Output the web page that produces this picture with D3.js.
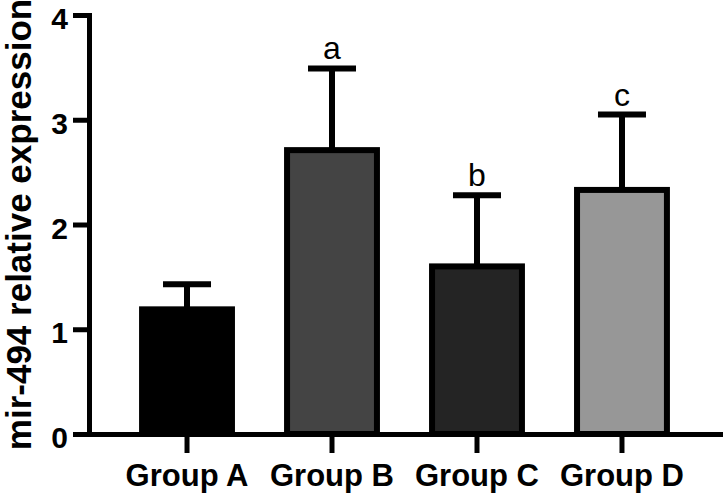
<!DOCTYPE html>
<html>
<head>
<meta charset="utf-8">
<script src="https://d3js.org/d3.v7.min.js"></script>
<style>
body { margin: 0; background: #fff; }
svg text { font-family: Arial, "Liberation Sans", sans-serif; }
</style>
</head>
<body>
<svg id="chart" width="725" height="498"></svg>
<script>
// values
const groups = ['Group A', 'Group B', 'Group C', 'Group D'];
const means = [1.19, 2.71, 1.60, 2.33];
const sds = [0.24, 0.78, 0.68, 0.72];
const letters = ['', 'a', 'b', 'c'];
const yTicks = [0, 1, 2, 3, 4];

const svg = d3.select('#chart');

const xs = d3.scaleBand().domain(groups).range([89, 720])
  .paddingInner(0.38).paddingOuter(0.366);
const ys = d3.scaleLinear().domain([0, 4]).range([434, 15]);
const fill = d3.scaleOrdinal().domain(groups).range(['#000000', '#444444', '#242424', '#979797']);

const data = groups.map((g, i) => ({g: g, m: means[i], sd: sds[i], l: letters[i]}));

// bars
svg.append('g').selectAll('rect')
  .data(data).enter()
  .append('rect')
    .attr('x', d => xs(d.g))
    .attr('y', d => ys(d.m))
    .attr('width', xs.bandwidth())
    .attr('height', d => ys(0) - ys(d.m))
    .attr('fill', d => fill(d.g))
    .attr('stroke', '#000')
    .attr('stroke-width', 6);

// error bars (upper half only)
const eb = svg.append('g').selectAll('g').data(data).enter().append('g');
eb.append('line')
  .attr('x1', d => xs(d.g) + xs.bandwidth() / 2)
  .attr('x2', d => xs(d.g) + xs.bandwidth() / 2)
  .attr('y1', d => ys(d.m))
  .attr('y2', d => ys(d.m + d.sd))
  .attr('stroke', '#000').attr('stroke-width', 6);
eb.append('line')
  .attr('x1', d => xs(d.g) + xs.bandwidth() / 2 - 24)
  .attr('x2', d => xs(d.g) + xs.bandwidth() / 2 + 24)
  .attr('y1', d => ys(d.m + d.sd))
  .attr('y2', d => ys(d.m + d.sd))
  .attr('stroke', '#000').attr('stroke-width', 6);
eb.append('text')
  .attr('x', d => xs(d.g) + xs.bandwidth() / 2)
  .attr('y', d => ys(d.m + d.sd) - 9)
  .attr('text-anchor', 'middle')
  .style('font-size', '32px')
  .text(d => d.l);

// axes
const yAxis = svg.append('g')
  .attr('transform', 'translate(89,0)')
  .call(d3.axisLeft(ys).tickValues(yTicks).tickFormat(d3.format('d'))
    .tickSize(16).tickSizeOuter(0).tickPadding(5));
const xAxis = svg.append('g')
  .attr('transform', 'translate(0,434)')
  .call(d3.axisBottom(xs).tickSize(19).tickSizeOuter(0).tickPadding(11));

[yAxis, xAxis].forEach(a => {
  a.select('.domain').attr('stroke', '#000').attr('stroke-width', 5).attr('stroke-linecap', 'square');
  a.selectAll('.tick line').attr('stroke', '#000').attr('stroke-width', 5);
  a.selectAll('.tick text')
    .attr('fill', '#000')
    .style('font-family', 'Arial, "Liberation Sans", sans-serif')
    .style('font-weight', 'bold');
});
yAxis.selectAll('.tick text').style('font-size', '30px').attr('dy', '0.45em');
xAxis.selectAll('.tick text').style('font-size', '31px');

// axis title
svg.append('text')
  .attr('transform', 'translate(31,224.5) rotate(-90)')
  .attr('text-anchor', 'middle')
  .style('font-size', '35px')
  .style('font-weight', 'bold')
  .text('mir-494 relative expression');
</script>
</body>
</html>
